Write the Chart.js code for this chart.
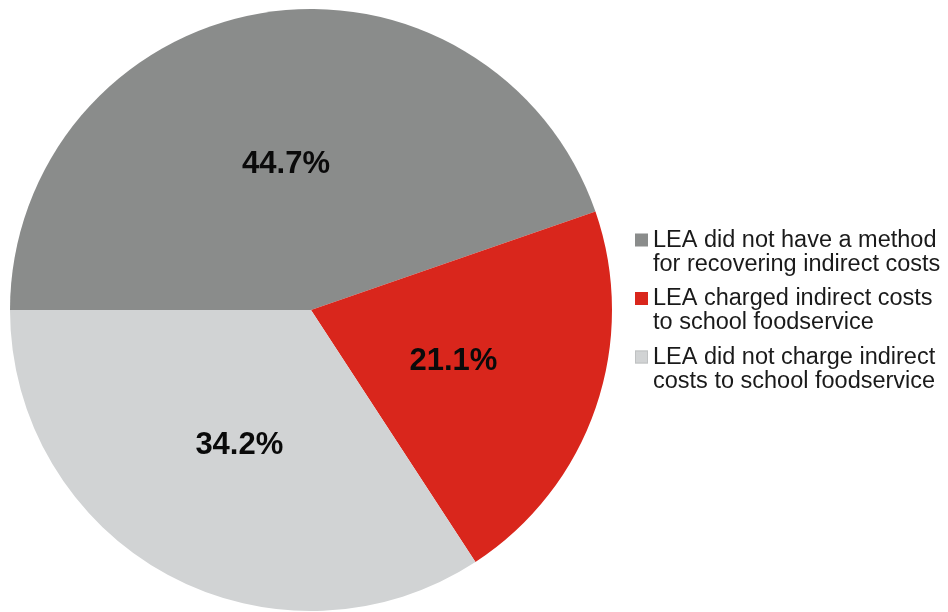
<!DOCTYPE html>
<html>
<head>
<meta charset="utf-8">
<script src="https://cdn.jsdelivr.net/npm/chart.js@4"></script>
<style>
  html, body { margin: 0; padding: 0; background: #fff; }
  #wrap { width: 948px; height: 612px; position: relative; }
</style>
</head>
<body>
<div id="wrap"><canvas id="pieChart" width="948" height="612"></canvas></div>
<script>
const categories = [
    ['LEA did not have a method', 'for recovering indirect costs'],
    ['LEA charged indirect costs', 'to school foodservice'],
    ['LEA did not charge indirect', 'costs to school foodservice']
];
const shares = [44.7, 21.1, 34.2];
const sliceColors = ['#8a8c8b', '#d9261c', '#d1d3d4'];

// percentage text in the middle of each slice
const sliceLabels = {
    id: 'sliceLabels',
    afterDatasetsDraw(chart) {
        const ctx = chart.ctx;
        const meta = chart.getDatasetMeta(0);
        ctx.save();
        ctx.font = 'bold 31px "Liberation Sans", Arial, sans-serif';
        ctx.fillStyle = '#0a0a0a';
        ctx.textAlign = 'center';
        ctx.textBaseline = 'middle';
        meta.data.forEach(function(arc, i) {
            const p = arc.tooltipPosition();
            ctx.fillText(shares[i].toFixed(1) + '%', p.x, p.y + 3);
        });
        ctx.restore();
    }
};

// legend on the right with two-line entries
const sideLegend = {
    id: 'sideLegend',
    afterDraw(chart) {
        const ctx = chart.ctx;
        ctx.save();
        ctx.font = '23.5px "Liberation Sans", Arial, sans-serif';
        ctx.textBaseline = 'middle';
        ctx.textAlign = 'left';
        let y = 240.5;
        categories.forEach(function(lines, i) {
            ctx.fillStyle = sliceColors[i];
            ctx.fillRect(635, y - 7, 13, 13);
            if (i === 2) {
                ctx.strokeStyle = '#bfc1c2';
                ctx.lineWidth = 1;
                ctx.strokeRect(635.5, y - 6.5, 12, 12);
            }
            ctx.fillStyle = '#1a1a1a';
            lines.forEach(function(line, j) {
                ctx.fillText(line, 653, y + j * 24);
            });
            y += 58.5;
        });
        ctx.restore();
    }
};

const ctx = document.getElementById('pieChart').getContext('2d');
const pieChart = new Chart(ctx, {
    type: 'pie',
    data: {
        labels: categories,
        datasets: [{
            data: shares,
            backgroundColor: sliceColors,
            borderWidth: 0
        }]
    },
    options: {
        responsive: false,
        animation: false,
        rotation: -90,
        layout: {
            padding: { left: 10, top: 9, bottom: 1, right: 336 }
        },
        plugins: {
            legend: { display: false },
            tooltip: { enabled: false }
        }
    },
    plugins: [sliceLabels, sideLegend]
});
</script>
</body>
</html>
